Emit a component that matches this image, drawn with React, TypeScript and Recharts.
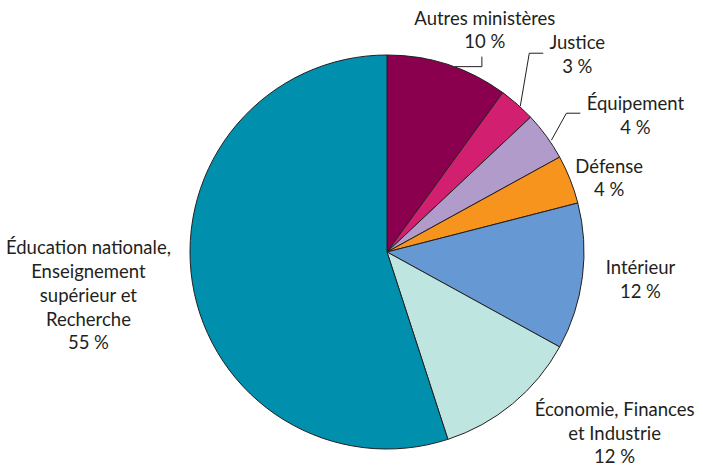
import { PieChart, Pie, Cell } from 'recharts';

const ministries = [
    'Autres ministères',
    'Justice',
    'Équipement',
    'Défense',
    'Intérieur',
    'Économie, Finances et Industrie',
    'Éducation nationale, Enseignement supérieur et Recherche',
];
const shares = [10, 3, 4, 4, 12, 12, 55];
const labelLines = [
    ['Autres ministères', '10 %'],
    ['Justice', '3 %'],
    ['Équipement', '4 %'],
    ['Défense', '4 %'],
    ['Intérieur', '12 %'],
    ['Économie, Finances', 'et Industrie', '12 %'],
    ['Éducation nationale,', 'Enseignement', 'supérieur et', 'Recherche', '55 %'],
];

const colors = ['#8a004f', '#d31f70', '#b19bcb', '#f7941d', '#6699d3', '#bfe5e0', '#0090ad'];
const ink = '#231f20';

// text block offset from the slice's outer midpoint
const labelOffsets = [
    [37, -34],
    [60, -49],
    [89, -20],
    [39, -1],
    [58, 3],
    [102, 30],
    [-104, 13],
];
// leader polylines, relative to the slice's outer midpoint
const leaders: Record<number, number[][]> = {
    0: [[7, 2], [34, 2], [34, -8]],
    1: [[3, 2], [12, -51], [26, -51]],
    2: [[5, 4], [20, -23], [34, -23]],
};

const data = ministries.map((name, i) => ({ name, value: shares[i] }));

const RAD = Math.PI / 180;
const LINE_H = 23.7;

function renderLabel(props: any) {
    const { cx, cy, midAngle, outerRadius, index } = props;
    const ex = cx + outerRadius * Math.cos(-midAngle * RAD);
    const ey = cy + outerRadius * Math.sin(-midAngle * RAD);
    const [dx, dy] = labelOffsets[index];
    const lines = labelLines[index];
    const tx = ex + dx;
    const top = ey + dy - ((lines.length - 1) * LINE_H) / 2 + 6;
    const leader = leaders[index];
    return (
        <g key={`lbl-${index}`}>
            {leader && (
                <polyline
                    points={leader.map(([x, y]) => `${ex + x},${ey + y}`).join(' ')}
                    fill="none"
                    stroke={ink}
                    strokeWidth={1}
                />
            )}
            <text
                x={tx}
                y={top}
                textAnchor="middle"
                fill={ink}
                fontSize={18.5}
                fontFamily="Lato, sans-serif"
            >
                {lines.map((l, i) => (
                    <tspan key={i} x={tx} y={top + i * LINE_H}>
                        {l}
                    </tspan>
                ))}
            </text>
        </g>
    );
}

export default function App() {
    return (
        <div style={{ position: 'absolute', left: 0, top: 0, background: '#fff' }}>
            <PieChart width={703} height={467} margin={{ top: 0, right: 0, bottom: 0, left: 0 }}>
                <Pie
                    data={data}
                    dataKey="value"
                    nameKey="name"
                    cx={387}
                    cy={252}
                    outerRadius={197}
                    startAngle={90}
                    endAngle={-270}
                    stroke={ink}
                    strokeWidth={1}
                    label={renderLabel}
                    labelLine={false}
                    isAnimationActive={false}
                >
                    {data.map((d, i) => (
                        <Cell key={d.name} fill={colors[i]} />
                    ))}
                </Pie>
            </PieChart>
        </div>
    );
}
